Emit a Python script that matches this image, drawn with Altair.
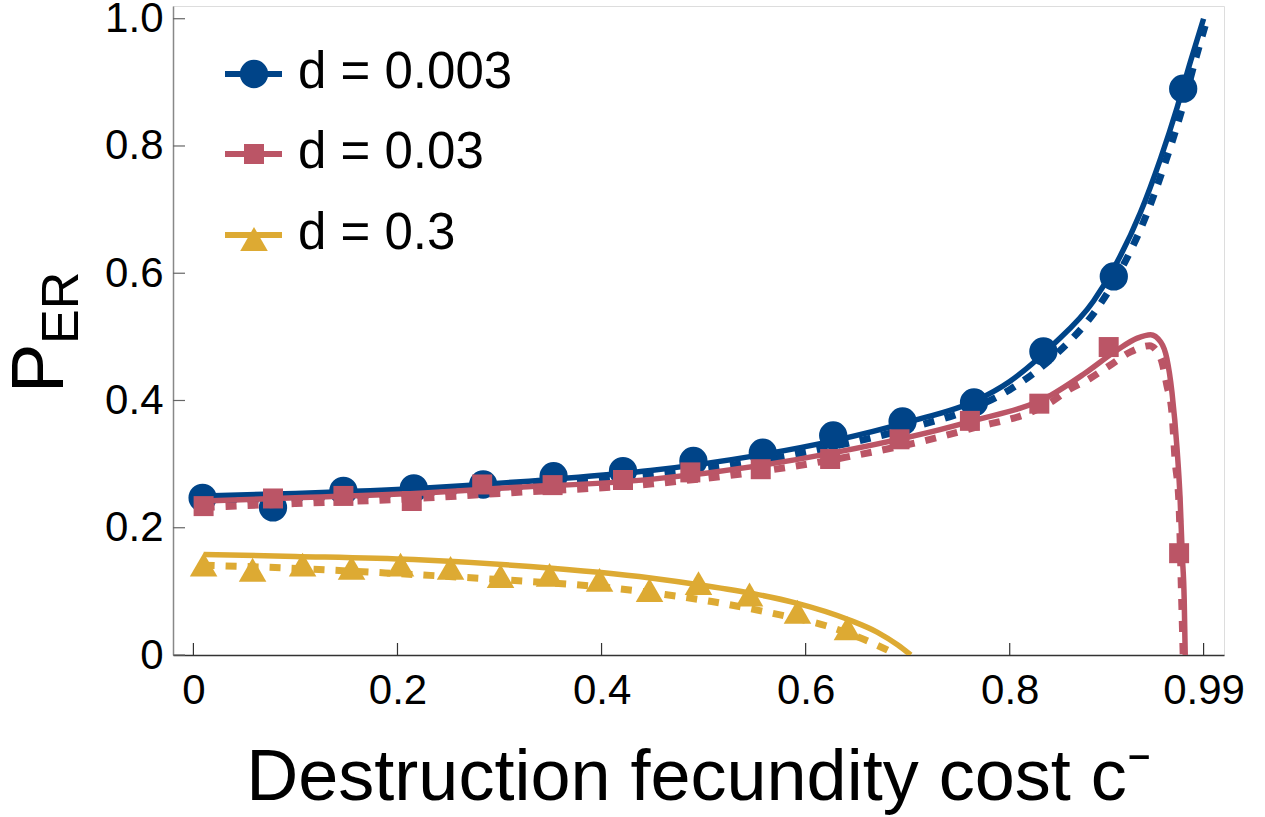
import altair as alt
import pandas as pd

FONT = "Liberation Sans"

# ---- series styling -------------------------------------------------------
series_names = ["d = 0.003", "d = 0.03", "d = 0.3"]
series_colors = ["#004488", "#BB5566", "#DDAA33"]
series_shapes = ["circle", "square", "triangle-up"]
marker_sizes = [800, 400, 760]

# ---- simulation points ----------------------------------------------------
c_sim_a = [0.009, 0.078, 0.147, 0.216, 0.284, 0.353, 0.421, 0.490, 0.558,
           0.627, 0.695, 0.765, 0.833, 0.902, 0.970]
p_sim_a = [0.247, 0.232, 0.258, 0.262, 0.268, 0.281, 0.289, 0.305, 0.318,
           0.345, 0.367, 0.397, 0.477, 0.595, 0.890]

c_sim_b = [0.010, 0.078, 0.147, 0.214, 0.283, 0.352, 0.421, 0.487, 0.556,
           0.624, 0.692, 0.761, 0.829, 0.897, 0.966]
p_sim_b = [0.234, 0.246, 0.250, 0.242, 0.268, 0.267, 0.275, 0.287, 0.292,
           0.308, 0.339, 0.368, 0.395, 0.484, 0.160]

c_sim_c = [0.010, 0.058, 0.107, 0.155, 0.203, 0.252, 0.301, 0.349, 0.398,
           0.447, 0.495, 0.545, 0.592, 0.641]
p_sim_c = [0.142, 0.134, 0.142, 0.137, 0.142, 0.137, 0.124, 0.126, 0.118,
           0.102, 0.113, 0.095, 0.068, 0.042]

# ---- analytical curves (solid) ---------------------------------------------
c_exact_a = [0.01, 0.10, 0.232, 0.35, 0.448, 0.55, 0.628, 0.70, 0.767, 0.80,
             0.842, 0.882, 0.902, 0.928, 0.948, 0.964, 0.977, 0.99]
p_exact_a = [0.250, 0.254, 0.263, 0.276, 0.290, 0.313, 0.337, 0.366, 0.400,
             0.430, 0.487, 0.556, 0.608, 0.695, 0.781, 0.860, 0.932, 1.0]

c_exact_b = [0.01, 0.10, 0.23, 0.30, 0.448, 0.628, 0.759, 0.84, 0.873, 0.905,
             0.925, 0.938, 0.948, 0.954, 0.959, 0.964, 0.967, 0.969, 0.971,
             0.972]
p_exact_b = [0.242, 0.247, 0.255, 0.262, 0.276, 0.318, 0.366, 0.408, 0.442,
             0.479, 0.498, 0.5035, 0.492, 0.466, 0.413, 0.324, 0.245, 0.161,
             0.087, 0.0]

c_exact_c = [0.01, 0.10, 0.216, 0.33, 0.448, 0.497, 0.55, 0.59, 0.643, 0.67,
             0.69, 0.703]
p_exact_c = [0.158, 0.155, 0.150, 0.139, 0.121, 0.110, 0.096, 0.082, 0.055,
             0.036, 0.016, 0.0]

# ---- approximation curves (dashed) -----------------------------------------
c_approx_a = [0.01, 0.10, 0.232, 0.35, 0.448, 0.55, 0.628, 0.70, 0.767, 0.80,
              0.845, 0.885, 0.905, 0.932, 0.952, 0.968, 0.981, 0.993]
p_approx_a = [0.243, 0.247, 0.256, 0.268, 0.282, 0.304, 0.328, 0.356, 0.390,
              0.417, 0.472, 0.543, 0.594, 0.684, 0.772, 0.853, 0.930, 0.997]

c_approx_b = [0.01, 0.10, 0.23, 0.30, 0.45, 0.63, 0.76, 0.84, 0.859, 0.878,
              0.898, 0.918, 0.937, 0.948, 0.954, 0.959, 0.962, 0.966, 0.968,
              0.970]
p_approx_b = [0.232, 0.238, 0.247, 0.254, 0.269, 0.308, 0.355, 0.397, 0.418,
              0.434, 0.455, 0.476, 0.486, 0.466, 0.424, 0.381, 0.308, 0.234,
              0.118, 0.0]

c_approx_c = [0.01, 0.07, 0.188, 0.325, 0.371, 0.418, 0.462, 0.508, 0.575,
              0.62, 0.665, 0.69]
p_approx_c = [0.141, 0.138, 0.129, 0.116, 0.111, 0.104, 0.095, 0.084, 0.063,
              0.046, 0.019, 0.0]

# ---- axes ------------------------------------------------------------------
x_ticks = [0, 0.2, 0.4, 0.6, 0.8, 0.99]
y_ticks = [0, 0.2, 0.4, 0.6, 0.8, 1.0]
x_title = "Destruction fecundity cost c\u207b"

W, H = 1051, 649

x_scale = alt.Scale(domain=[-0.02, 1.01], nice=False, zero=False)
y_scale = alt.Scale(domain=[0, 1.02], nice=False, zero=False)

x_axis = alt.Axis(values=x_ticks, labelExpr="datum.value === 0 ? '0' : format(datum.value, '.2~f')",
                  labelFontSize=42, labelFont=FONT, labelColor="black", labelPadding=15,
                  ticks=False, tickSize=0, grid=False, domainColor="#333", domainWidth=1.5,
                  title=None, labelFlush=False)
y_axis = alt.Axis(values=y_ticks, labelExpr="datum.value === 0 ? '0' : format(datum.value, '.1f')",
                  labelFontSize=42, labelFont=FONT, labelColor="black", labelPadding=10,
                  ticks=False, tickSize=0, grid=False, domainColor="#888", domainWidth=1.5,
                  title=None, labelFlush=False)

sims = [(c_sim_a, p_sim_a), (c_sim_b, p_sim_b), (c_sim_c, p_sim_c)]
exacts = [(c_exact_a, p_exact_a), (c_exact_b, p_exact_b), (c_exact_c, p_exact_c)]
approxs = [(c_approx_a, p_approx_a), (c_approx_b, p_approx_b), (c_approx_c, p_approx_c)]

layers = []

# inward tick marks on the bottom and left axes
layers.append(
    alt.Chart(pd.DataFrame({"c": x_ticks})).mark_rule(color="#333", strokeWidth=1.2).encode(
        x=alt.X("c:Q", scale=x_scale, axis=x_axis), y=alt.value(H), y2=alt.value(H - 12))
)
layers.append(
    alt.Chart(pd.DataFrame({"p": y_ticks})).mark_rule(color="#666", strokeWidth=1.2).encode(
        y=alt.Y("p:Q", scale=y_scale, axis=y_axis), x=alt.value(0), x2=alt.value(12))
)

for i in range(3):
    col = series_colors[i]
    ce, pe = exacts[i]
    ca, pa = approxs[i]
    cs, ps = sims[i]
    layers.append(
        alt.Chart(pd.DataFrame({"c": ce, "p": pe})).mark_line(
            color=col, strokeWidth=5.5, interpolate="monotone", clip=True).encode(
            x=alt.X("c:Q", scale=x_scale), y=alt.Y("p:Q", scale=y_scale))
    )
    layers.append(
        alt.Chart(pd.DataFrame({"c": ca, "p": pa})).mark_line(
            color=col, strokeWidth=7, strokeDash=[11, 11], strokeCap="butt",
            interpolate="monotone", clip=True).encode(
            x=alt.X("c:Q", scale=x_scale), y=alt.Y("p:Q", scale=y_scale))
    )
    layers.append(
        alt.Chart(pd.DataFrame({"c": cs, "p": ps})).mark_point(
            shape=series_shapes[i], filled=True, opacity=1, color=col,
            size=marker_sizes[i], clip=True).encode(
            x=alt.X("c:Q", scale=x_scale), y=alt.Y("p:Q", scale=y_scale))
    )

# legend drawn inside the plot, upper left
legend_rows = [68, 148, 229]
for i in range(3):
    row = legend_rows[i]
    col = series_colors[i]
    base = alt.Chart(pd.DataFrame({"label": [series_names[i]]}))
    layers.append(base.mark_rule(color=col, strokeWidth=6).encode(
        x=alt.value(52), x2=alt.value(109), y=alt.value(row)))
    layers.append(base.mark_point(shape=series_shapes[i], filled=True, opacity=1, color=col,
                                  size=marker_sizes[i]).encode(
        x=alt.value(81), y=alt.value(row + (4 if i == 2 else 0))))
    layers.append(base.mark_text(align="left", baseline="alphabetic", font=FONT,
                                 fontSize=51, color="black").encode(
        x=alt.value(125), y=alt.value(row + 14), text="label:N"))

# axis titles
title_df = pd.DataFrame({"t": [x_title]})
layers.append(alt.Chart(title_df).mark_text(align="center", baseline="alphabetic", font=FONT,
                                            fontSize=72, color="black").encode(
    x=alt.value(W / 2), y=alt.value(794), text="t:N"))
layers.append(alt.Chart(pd.DataFrame({"t": ["P"]})).mark_text(
    align="left", baseline="alphabetic", font=FONT, fontSize=74, angle=270, color="black").encode(
    x=alt.value(-110), y=alt.value(387), text="t:N"))
layers.append(alt.Chart(pd.DataFrame({"t": ["ER"]})).mark_text(
    align="left", baseline="alphabetic", font=FONT, fontSize=52, angle=270, color="black").encode(
    x=alt.value(-95), y=alt.value(338), text="t:N"))

chart = alt.layer(*layers).properties(
    width=W, height=H,
    autosize=alt.AutoSizeParams(type="none"),
    padding={"left": 173, "top": 6, "right": 41, "bottom": 162},
).configure_view(stroke="#888", strokeWidth=1.5).configure(background="white")

chart.save("out.html", embed_options={"renderer": "svg", "actions": False})
